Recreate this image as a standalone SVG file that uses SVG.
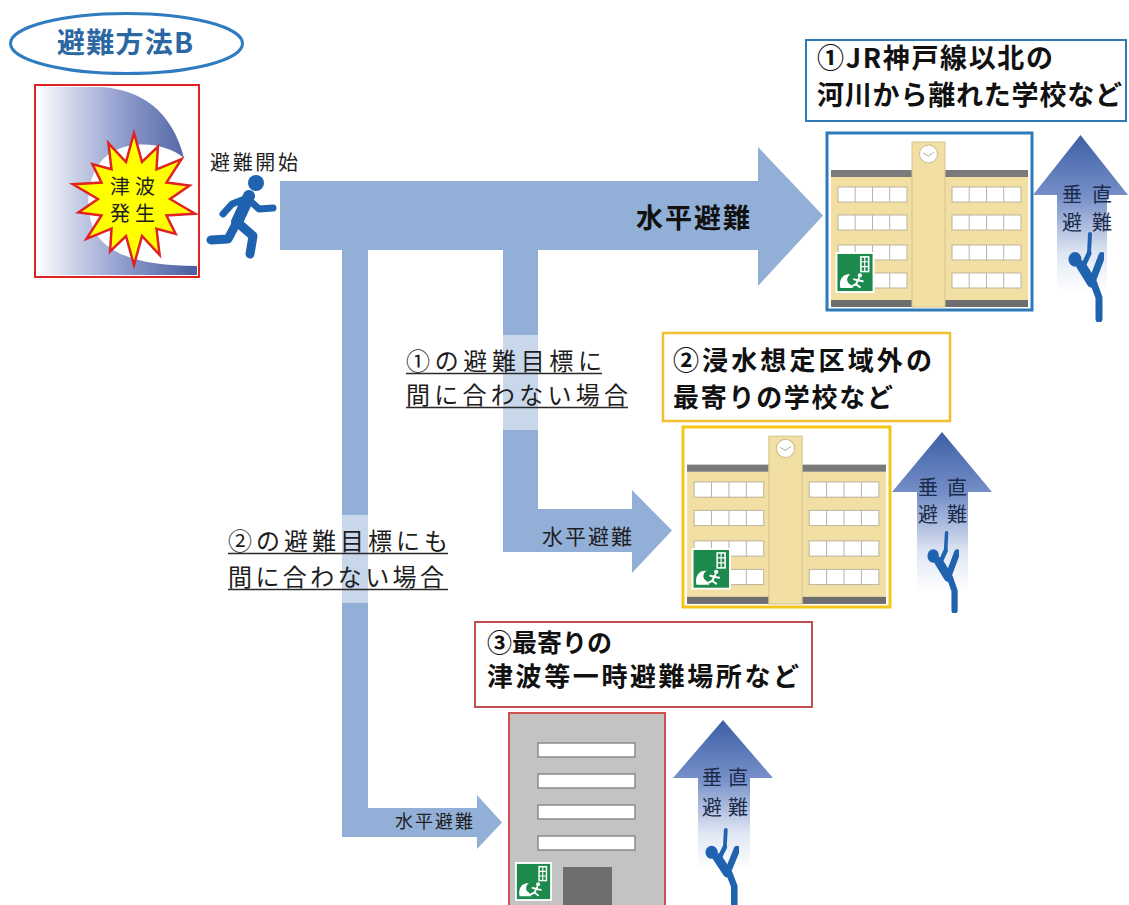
<svg xmlns="http://www.w3.org/2000/svg" xmlns:xlink="http://www.w3.org/1999/xlink" width="1129" height="905" viewBox="0 0 1129 905">
  <style>
    text { font-family: "Noto Sans CJK JP", "Noto Sans", sans-serif; fill: #1e1e1e; }
    .title { font-size: 28px; font-weight: bold; fill: #2a67a3; }
    .box { font-size: 27px; font-weight: bold; fill: #111; }
    .note { font-size: 24px; fill: #1e1e1e; }
    .vt { font-size: 20px; fill: #1c2b4a; }
    .flow { fill: #92afd7; }
    .uline { stroke: #2a2a2a; stroke-width: 1.6; }
    .haze { fill: #ffffff; opacity: 0.5; }
    .fig { fill: none; stroke: #1f63b0; stroke-linecap: round; stroke-linejoin: round; }
  </style>
  <defs>
    <linearGradient id="waveGrad" gradientUnits="userSpaceOnUse" x1="37" y1="0" x2="192" y2="0">
      <stop offset="0" stop-color="#ffffff"/>
      <stop offset="0.25" stop-color="#c9d0e7"/>
      <stop offset="0.6" stop-color="#8896c8"/>
      <stop offset="1" stop-color="#4d61a2"/>
    </linearGradient>
    <linearGradient id="upGrad" x1="0" y1="0" x2="0" y2="1">
      <stop offset="0" stop-color="#3d5fa6"/>
      <stop offset="0.4" stop-color="#7891c9"/>
      <stop offset="0.75" stop-color="#dfe6f3"/>
      <stop offset="1" stop-color="#ffffff"/>
    </linearGradient>

    <!-- emergency exit pictogram -->
    <symbol id="exit" viewBox="0 0 40 42">
      <rect x="1" y="1" width="38" height="40" fill="#1b8a4c" stroke="#ffffff" stroke-width="2"/>
      <rect x="26" y="5" width="8" height="15" fill="none" stroke="#ffffff" stroke-width="1.6"/>
      <path d="M26,10 H34 M26,15 H34 M30,5 V20" stroke="#ffffff" stroke-width="1.2"/>
      <path d="M5,37 C3,28 8,22 15,23 C11,26 11,31 15,33 L18,37 Z" fill="#ffffff"/>
      <circle cx="25" cy="24" r="2.2" fill="#ffffff"/>
      <path d="M24,27 L21,33 M23,29 L28,30 M21,33 L25,36 M21,33 L17,35 M23,29 L19,28" stroke="#ffffff" stroke-width="2" stroke-linecap="round" fill="none"/>
    </symbol>

    <!-- row of four window panes -->
    <g id="win">
      <rect x="0" y="0" width="69" height="15" fill="#ffffff" stroke="#bdb49a" stroke-width="1"/>
      <path d="M17.2,0 V15 M34.5,0 V15 M51.7,0 V15" stroke="#bdb49a" stroke-width="1"/>
    </g>

    <!-- school building with clock tower -->
    <symbol id="school" viewBox="0 0 205 177" preserveAspectRatio="none">
      <rect x="0" y="0" width="205" height="177" fill="#ffffff"/>
      <rect x="4" y="44" width="81" height="123" fill="#f2dfa4"/>
      <rect x="118" y="44" width="83" height="123" fill="#f2dfa4"/>
      <rect x="4" y="37" width="81" height="7" fill="#7a7a7a"/>
      <rect x="118" y="37" width="83" height="7" fill="#7a7a7a"/>
      <use href="#win" x="11" y="54"/>
      <use href="#win" x="11" y="82"/>
      <use href="#win" x="11" y="112"/>
      <use href="#win" x="11" y="140"/>
      <use href="#win" x="125" y="54"/>
      <use href="#win" x="125" y="82"/>
      <use href="#win" x="125" y="112"/>
      <use href="#win" x="125" y="140"/>
      <rect x="4" y="167" width="197" height="7" fill="#6e6e6e"/>
      <rect x="85" y="9" width="33" height="165" fill="#f2dfa4" stroke="#d6c48c" stroke-width="1"/>
      <circle cx="101.5" cy="21" r="9" fill="#ffffff" stroke="#cbbb88" stroke-width="1"/>
      <path d="M96,20 L101.5,23 L107,19" fill="none" stroke="#b9b0a0" stroke-width="1"/>
      <use href="#exit" x="8" y="119" width="40" height="41"/>
    </symbol>

    <!-- climbing person -->
    <symbol id="climber" viewBox="0 0 36 92" preserveAspectRatio="none">
      <path class="fig" d="M22,2 L21,22" stroke-width="4"/>
      <ellipse cx="7" cy="28" rx="6.5" ry="7.5" fill="#1f63b0"/>
      <path class="fig" d="M13,34 L24,52" stroke-width="10"/>
      <path class="fig" d="M16,33 L21,22" stroke-width="5"/>
      <path class="fig" d="M25,48 L34,24" stroke-width="7"/>
      <path class="fig" d="M26,53 L31,67 L31,89" stroke-width="7"/>
    </symbol>
  </defs>

  <rect x="0" y="0" width="1129" height="905" fill="#ffffff"/>

  <!-- evacuation flow arrows -->
  <g id="connectors">
    <path id="flow-main" class="flow" d="M280,181 L758,181 L758,147 L823,215.5 L758,286 L758,250 L280,250 Z"/>
    <path id="flow-b2" class="flow" d="M503,250 L538,250 L538,509 L632,509 L632,490 L672,530.5 L632,573 L632,552 L503,552 Z"/>
    <path id="flow-b3" class="flow" d="M342,250 L368,250 L368,808 L477,808 L477,795 L502,822.5 L477,849 L477,837 L342,837 Z"/>
    <text x="636" y="228" class="box" textLength="114">水平避難</text>
    <text x="542" y="544" style="font-size:21px" textLength="90">水平避難</text>
    <text x="395" y="828" style="font-size:18px" textLength="78">水平避難</text>
  </g>

  <!-- method heading -->
  <g id="title">
    <ellipse cx="126.5" cy="43.5" rx="116" ry="30" fill="#ffffff" stroke="#2f7bbf" stroke-width="3"/>
    <text x="57" y="53" class="title" textLength="136">避難方法B</text>
  </g>

  <!-- tsunami occurrence -->
  <g id="tsunami">
    <rect x="35" y="85" width="164" height="192" fill="#ffffff"/>
    <path d="M37,87 L100,87 C140,89 172,110 184,158 C165,143 135,140 112,152 C88,166 82,205 95,232 C110,258 150,266 197,266 L197,275 L37,275 Z" fill="url(#waveGrad)"/>
    <polygon fill="#ffff00" stroke="#e02222" stroke-width="2.5" stroke-linejoin="miter"
      points="134,133 142,162 157.9,146.7 156.5,169.3 181.5,159.1 166.5,182.5 189.6,185.6 170.1,199 195.1,213.7 166.5,215.5 175.6,233.9 156.5,228.7 159.6,254.9 142,236 134,265 126,236 110.1,251.3 111.5,228.7 86.5,238.9 101.5,215.5 78.4,212.4 97.9,199 72.9,184.3 101.5,182.5 92.4,164.1 111.5,169.3 108.4,143.1 126,162"/>
    <text x="132.5" y="194" text-anchor="middle" style="font-size:20px" textLength="45">津波</text>
    <text x="132.5" y="221" text-anchor="middle" style="font-size:20px" textLength="45">発生</text>
    <rect x="35" y="85" width="164" height="192" fill="none" stroke="#e02222" stroke-width="2"/>
  </g>

  <!-- evacuation start -->
  <g id="start">
    <text x="210" y="170" style="font-size:20px" textLength="88">避難開始</text>
    <circle cx="256" cy="183" r="8" fill="#1f63b0"/>
    <path class="fig" d="M249,196 L237,222" stroke-width="12"/>
    <path class="fig" d="M247,198 L259,209 L273,208" stroke-width="7"/>
    <path class="fig" d="M245,199 L232,204 L223,214" stroke-width="7"/>
    <path class="fig" d="M237,222 L253,236 L250,254" stroke-width="9"/>
    <path class="fig" d="M236,224 L228,239 L211,240" stroke-width="9"/>
  </g>

  <!-- destination 1 -->
  <g id="dest1">
    <rect x="806" y="40" width="320" height="81" fill="#ffffff" stroke="#2e7ab8" stroke-width="2"/>
    <text x="817" y="68" class="box" textLength="236">①JR神戸線以北の</text>
    <text x="817" y="105" class="box" textLength="305">河川から離れた学校など</text>
    <use href="#school" x="827" y="133" width="205" height="177"/>
    <rect x="827" y="133" width="205" height="177" fill="none" stroke="#2e7ab8" stroke-width="3"/>
  </g>
  <g id="vert1">
    <path d="M1080.5,135 L1128,195 L1107,195 L1107,292 L1057,292 L1057,195 L1033,195 Z" fill="url(#upGrad)"/>
    <text x="1062" y="202" class="vt" textLength="50">垂直</text>
    <text x="1062" y="230" class="vt" textLength="50">避難</text>
    <use href="#climber" x="1068" y="232" width="36" height="90"/>
  </g>

  <!-- branch note 1 -->
  <g id="note1">
    <rect class="haze" x="398" y="335" width="242" height="95"/>
    <text x="406" y="370" class="note" textLength="196">①の避難目標に</text>
    <line class="uline" x1="406" y1="373.5" x2="602" y2="373.5"/>
    <text x="406" y="404" class="note" textLength="222">間に合わない場合</text>
    <line class="uline" x1="406" y1="407.5" x2="628" y2="407.5"/>
  </g>

  <!-- destination 2 -->
  <g id="dest2">
    <rect x="663" y="333" width="287" height="88" fill="#ffffff" stroke="#f0c030" stroke-width="2.5"/>
    <text x="673" y="370" class="box" style="font-size:26px" textLength="259">②浸水想定区域外の</text>
    <text x="673" y="407" class="box" style="font-size:26px" textLength="220">最寄りの学校など</text>
    <use href="#school" x="683" y="427" width="207" height="180"/>
    <rect x="683" y="427" width="207" height="180" fill="none" stroke="#f5c518" stroke-width="3"/>
  </g>
  <g id="vert2">
    <path d="M942,432 L992,492 L968,492 L968,592 L917,592 L917,492 L892,492 Z" fill="url(#upGrad)"/>
    <text x="918" y="495" class="vt" textLength="49">垂直</text>
    <text x="918" y="522" class="vt" textLength="49">避難</text>
    <use href="#climber" x="927" y="531" width="32" height="82"/>
  </g>

  <!-- branch note 2 -->
  <g id="note2">
    <rect class="haze" x="220" y="515" width="240" height="88"/>
    <text x="228" y="550" class="note" textLength="220">②の避難目標にも</text>
    <line class="uline" x1="228" y1="553.5" x2="448" y2="553.5"/>
    <text x="228" y="586" class="note" textLength="216">間に合わない場合</text>
    <line class="uline" x1="228" y1="589.5" x2="448" y2="589.5"/>
  </g>

  <!-- destination 3 -->
  <g id="dest3">
    <rect x="475" y="622" width="337" height="85" fill="#ffffff" stroke="#c05050" stroke-width="2"/>
    <text x="487" y="652" class="box" style="font-size:25px">③最寄りの</text>
    <text x="487" y="686" class="box" style="font-size:26px" textLength="312">津波等一時避難場所など</text>
    <rect x="509" y="713" width="156" height="200" fill="#c3c3c3" stroke="#d05050" stroke-width="2"/>
    <rect x="538" y="743" width="97" height="14" fill="#ffffff" stroke="#8a8a8a" stroke-width="1.5"/>
    <rect x="538" y="774" width="97" height="14" fill="#ffffff" stroke="#8a8a8a" stroke-width="1.5"/>
    <rect x="538" y="805" width="97" height="14" fill="#ffffff" stroke="#8a8a8a" stroke-width="1.5"/>
    <rect x="538" y="836" width="97" height="14" fill="#ffffff" stroke="#8a8a8a" stroke-width="1.5"/>
    <rect x="563" y="867" width="49" height="40" fill="#6e6e6e"/>
    <use href="#exit" x="515" y="862" width="37" height="39"/>
  </g>
  <g id="vert3">
    <path d="M723,720 L773,778 L750,778 L750,870 L698,870 L698,778 L673,778 Z" fill="url(#upGrad)"/>
    <text x="702" y="785" class="vt" textLength="46">垂直</text>
    <text x="702" y="815" class="vt" textLength="46">避難</text>
    <use href="#climber" x="705" y="828" width="34" height="80"/>
  </g>
</svg>
